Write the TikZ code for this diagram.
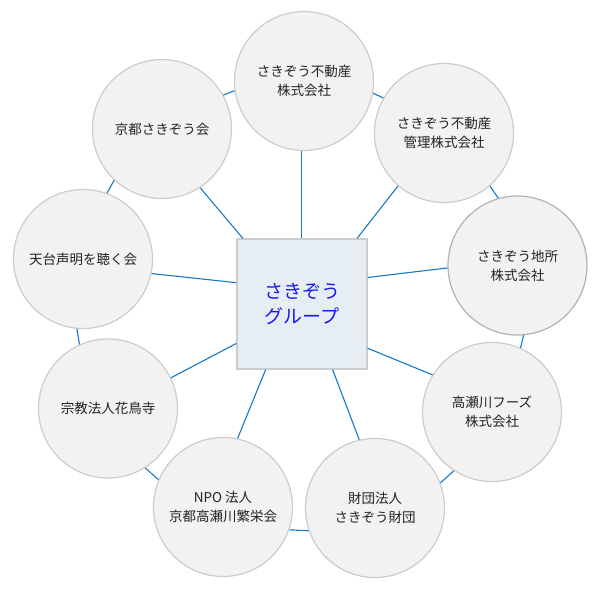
\documentclass[tikz,border=0pt]{standalone}
\usepackage{fontspec}
\setmainfont{Noto Sans CJK JP}
\definecolor{linkblue}{HTML}{1479C8}
\definecolor{ringgray}{HTML}{CCCCCC}
\definecolor{circfill}{HTML}{F2F2F2}
\definecolor{hubfill}{HTML}{E6EEF4}
\definecolor{hubtext}{HTML}{1A1AF0}
\definecolor{textgray}{HTML}{222222}

\tikzset{
  member/.style={circle, draw=ringgray, fill=circfill, line width=1.2pt,
    minimum size=139pt, inner sep=0pt, align=center, text=textgray,
    font=\fontsize{13.5}{19}\selectfont},
  hub/.style={rectangle, draw=ringgray, fill=hubfill, line width=1.2pt,
    minimum size=130pt, inner sep=0pt, align=center, text=hubtext,
    font=\fontsize{19}{25}\selectfont},
  link/.style={draw=linkblue, line width=1.1pt}
}

\begin{document}
\begin{tikzpicture}[x=1pt, y=-1pt]
    \useasboundingbox (0,0) rectangle (600,600);
    \node[hub] (G) at (302,304) {さきぞう\\グループ};
    \node[member] (fudosan) at (304,81) {さきぞう不動産\\株式会社};
    \node[member] (kanri) at (444,133) {さきぞう不動産\\管理株式会社};
    \node[member, draw=gray!60] (jisho) at (517.5,265.5) {さきぞう地所\\株式会社};
    \node[member] (foods) at (492,412) {高瀬川フーズ\\株式会社};
    \node[member] (zaidan) at (375,508) {財団法人\\さきぞう財団};
    \node[member] (npo) at (223,507) {NPO 法人\\京都高瀬川繁栄会};
    \node[member] (kachoji) at (108,408.5) {宗教法人花鳥寺};
    \node[member] (shomyo) at (83,259) {天台声明を聴く会};
    \node[member] (kyoto) at (162,129) {京都さきぞう会};
	% spokes
	\draw[link] ([xshift=-0.5pt]G.north) -- ([xshift=-0.5pt]G.north |- fudosan.south);
	\draw[link] (G.50.8) -- (kanri.229.6);
	\draw[link] (G.22.6) -- (jisho.182);
	\draw[link] (G.-34.7) -- (foods.148.3);
	\draw[link] (G.-65.2) -- (zaidan.103.7);
	\draw[link] (G.241.7) -- (npo.78.7);
	\draw[link] (G.211.6) -- (kachoji.26.2);
	\draw[link] (G.162.1) -- (shomyo.-12.3);
	\draw[link] (G.132.2) -- (kyoto.-57.9);
	% ring
	\draw[link] (fudosan.-10) -- (kanri.150);
	\draw[link] (kanri.-49.6) -- (jisho.106.9);
	\draw[link] (jisho.-85.5) -- (foods.66.4);
	\draw[link] (foods.237.4) -- (zaidan.21.8);
	\draw[link] (zaidan.199) -- (npo.-19);
	\draw[link] (npo.157.4) -- (kachoji.-58.1);
	\draw[link] (kachoji.114.5) -- (shomyo.265.1);
	\draw[link] (shomyo.70.8) -- (kyoto.227.2);
	\draw[link] (kyoto.29.8) -- (fudosan.188.2);
\end{tikzpicture}
\end{document}
